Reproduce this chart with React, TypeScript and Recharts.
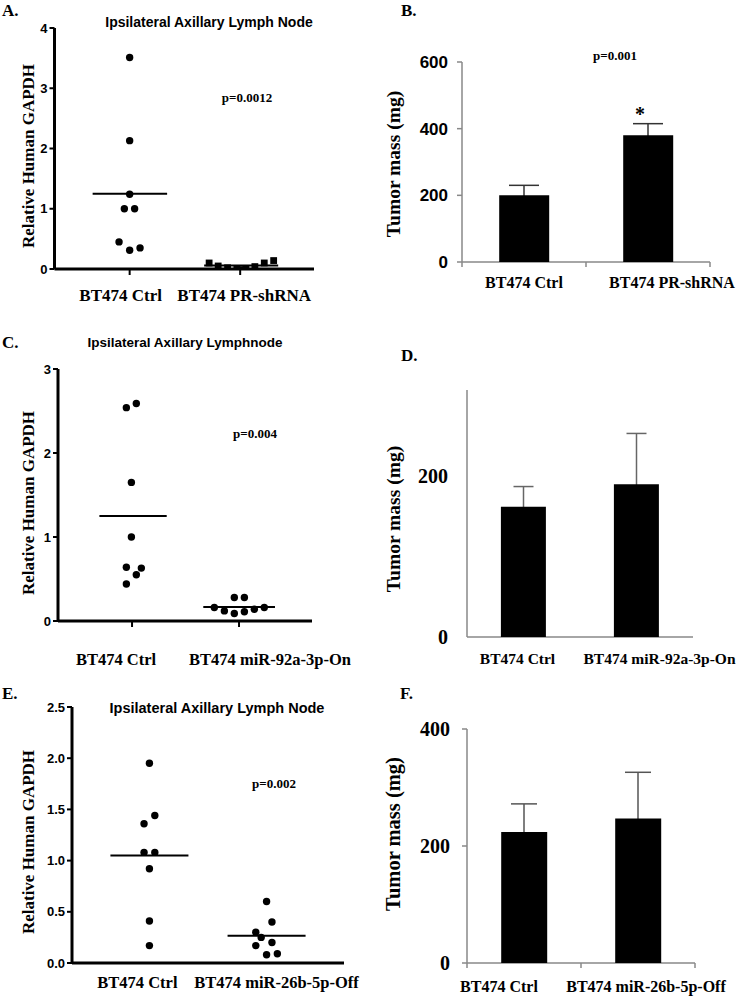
import React from 'react';
import { ScatterChart, Scatter, XAxis, YAxis, ReferenceLine, ComposedChart, Bar, Line, ErrorBar } from 'recharts';

const SERIF = '"Liberation Serif", "Times New Roman", serif';
const SANS = '"Liberation Sans", Arial, sans-serif';

// ---------- Panel A ----------
const aCategories = ['BT474 Ctrl', 'BT474 PR-shRNA'];
const aYTicks = [0, 1, 2, 3, 4];
const aCtrlY = [3.51, 2.13, 1.24, 1.0, 1.0, 0.45, 0.31, 0.35];
const aCtrlX = [1.0, 1.0, 1.0, 0.952, 1.045, 0.904, 1.0, 1.094];
const aShY = [0.1, 0.05, 0.02, 0.0, -0.01, 0.01, 0.04, 0.1, 0.14];
const aShX = [1.719, 1.801, 1.886, 1.97, 1.997, 2.052, 2.133, 2.218, 2.303];
const aMeans = [1.25, 0.06];
const aMeanSpans = [[0.665, 1.339], [1.674, 2.344]];
const aPValue = 'p=0.0012';

// ---------- Panel B ----------
const bCategories = ['BT474 Ctrl', 'BT474 PR-shRNA'];
const bMeans = [200, 380];
const bErrUp = [30, 35];
const bYTicks = [0, 200, 400, 600];
const bPValue = 'p=0.001';

// ---------- Panel C ----------
const cCategories = ['BT474 Ctrl', 'BT474 miR-92a-3p-On'];
const cYTicks = [0, 1, 2, 3];
const cCtrlY = [2.54, 2.59, 1.65, 1.0, 0.64, 0.63, 0.55, 0.44];
const cCtrlX = [0.947, 1.04, 0.994, 0.994, 0.947, 1.087, 1.04, 0.947];
const cOnY = [0.28, 0.28, 0.16, 0.12, 0.09, 0.11, 0.14, 0.16];
const cOnX = [1.956, 2.05, 1.769, 1.863, 1.956, 2.05, 2.143, 2.236];
const cMeans = [1.25, 0.167];
const cMeanSpans = [[0.695, 1.324], [1.666, 2.336]];
const cPValue = 'p=0.004';

// ---------- Panel D ----------
const dCategories = ['BT474 Ctrl', 'BT474 miR-92a-3p-On'];
const dMeans = [162, 190];
const dErrUp = [25, 63];
const dYTicks = [0, 200];

// ---------- Panel E ----------
const eCategories = ['BT474 Ctrl', 'BT474 miR-26b-5p-Off'];
const eYTicks = [0, 0.5, 1.0, 1.5, 2.0, 2.5];
const eCtrlY = [1.95, 1.44, 1.36, 1.08, 1.08, 0.92, 0.41, 0.17];
const eCtrlX = [1.0, 1.046, 0.954, 0.954, 1.046, 1.0, 1.0, 1.0];
const eOffY = [0.6, 0.4, 0.3, 0.25, 0.2, 0.17, 0.08, 0.09];
const eOffX = [2.0, 2.046, 1.908, 1.954, 2.046, 1.908, 2.0, 2.092];
const eMeans = [1.05, 0.265];
const eMeanSpans = [[0.667, 1.333], [1.667, 2.333]];
const ePValue = 'p=0.002';

// ---------- Panel F ----------
const fCategories = ['BT474 Ctrl', 'BT474 miR-26b-5p-Off'];
const fMeans = [224, 247];
const fErrUp = [48, 79];
const fYTicks = [0, 200, 400];

const toPoints = (xs: number[], ys: number[]) => ys.map((y, i) => ({ x: xs[i], y }));
const toBars = (cats: string[], means: number[], errs: number[]) =>
  cats.map((name, i) => ({ name, value: means[i], err: errs[i] }));

const Dot = (p: any) => <circle cx={p.cx} cy={p.cy} r={3.7} fill="#000" />;
const Square = (p: any) => <rect x={p.cx - 3.4} y={p.cy - 3.4} width={6.8} height={6.8} fill="#000" />;

const makeScatterTick = (labels: string[], dxs: number[], base: number, size: number) => (props: any) => {
  const { x, y, payload } = props;
  const i = Math.round(payload.value) - 1;
  if (i < 0 || i >= labels.length) return <g />;
  return (
    <text x={x + dxs[i]} y={y + base} textAnchor="middle" fontFamily={SERIF} fontWeight="bold" fontSize={size} fill="#000">
      {labels[i]}
    </text>
  );
};

const makeBarTick = (dxs: number[], base: number, size: number, edgeTicks: boolean, color: string) => (props: any) => {
  const { x, y, payload, index } = props;
  const off = payload.offset || 0;
  return (
    <g>
      {edgeTicks && index === 0 && <line x1={x - off} x2={x - off} y1={y} y2={y + 5} stroke={color} strokeWidth={1.5} />}
      {edgeTicks && <line x1={x + off} x2={x + off} y1={y} y2={y + 5} stroke={color} strokeWidth={1.5} />}
      <text x={x + dxs[index]} y={y + base} textAnchor="middle" fontFamily={SERIF} fontWeight="bold" fontSize={size} fill="#000">
        {payload.value}
      </text>
    </g>
  );
};

type ScatterPanelProps = {
  left: number; top: number; width: number; height: number;
  margin: { top: number; right: number };
  yWidth: number; xHeight: number;
  xDomain: [number, number]; yDomain: [number, number];
  yTicks: number[]; yFmt?: (v: number) => string;
  groups: { pts: { x: number; y: number }[]; square?: boolean }[];
  means: number[]; spans: number[][];
  tick: any; xTickLines: boolean;
};

const ScatterPanel = (p: ScatterPanelProps) => (
  <div style={{ position: 'absolute', left: p.left, top: p.top }}>
    <ScatterChart width={p.width} height={p.height} margin={{ top: p.margin.top, right: p.margin.right, bottom: 0, left: 0 }} style={{ overflow: 'visible' }}>
      <XAxis
        type="number" dataKey="x" domain={p.xDomain} ticks={[1, 2]} allowDataOverflow
        height={p.xHeight} interval={0}
        axisLine={{ stroke: '#000', strokeWidth: 3 }}
        tickLine={p.xTickLines ? { stroke: '#000', strokeWidth: 2 } : false}
        tickSize={p.xTickLines ? 6 : 0} tickMargin={0}
        tick={p.tick}
      />
      <YAxis
        type="number" dataKey="y" domain={p.yDomain} ticks={p.yTicks} allowDataOverflow
        width={p.yWidth} interval={0}
        axisLine={{ stroke: '#000', strokeWidth: 3 }}
        tickLine={{ stroke: '#000', strokeWidth: 2 }}
        tickSize={5} tickMargin={2}
        tickFormatter={p.yFmt}
        tick={{ fontFamily: SANS, fontWeight: 'bold', fontSize: 13, fill: '#000' }}
      />
      {p.groups.map((g, i) => (
        <Scatter key={i} data={g.pts} shape={g.square ? Square : Dot} isAnimationActive={false} />
      ))}
      {p.means.map((m, i) => (
        <ReferenceLine key={'m' + i} segment={[{ x: p.spans[i][0], y: m }, { x: p.spans[i][1], y: m }]} stroke="#000" strokeWidth={2} ifOverflow="visible" />
      ))}
    </ScatterChart>
  </div>
);

type BarPanelProps = {
  left: number; top: number; width: number; height: number;
  margin: { top: number; right: number };
  yWidth: number; xHeight: number;
  yDomain: [number, number]; yTicks: number[];
  data: any[]; tick: any;
  yTickFont: any; yTickLine: boolean; yTickMargin: number;
  errColor: string; errWidth: number; axisColor: string;
};

const BarPanel = (p: BarPanelProps) => (
  <div style={{ position: 'absolute', left: p.left, top: p.top }}>
    <ComposedChart width={p.width} height={p.height} data={p.data} barCategoryGap="30%" margin={{ top: p.margin.top, right: p.margin.right, bottom: 0, left: 0 }} style={{ overflow: 'visible' }}>
      <XAxis
        dataKey="name" height={p.xHeight} interval={0}
        axisLine={{ stroke: p.axisColor, strokeWidth: 1.5 }}
        tickLine={false} tickSize={0} tickMargin={0}
        tick={p.tick}
      />
      <YAxis
        domain={p.yDomain} ticks={p.yTicks} allowDataOverflow width={p.yWidth} interval={0}
        axisLine={{ stroke: p.axisColor, strokeWidth: 1.5 }}
        tickLine={p.yTickLine ? { stroke: p.axisColor, strokeWidth: 1.5 } : false}
        tickSize={p.yTickLine ? 5 : 0} tickMargin={p.yTickMargin}
        tick={p.yTickFont}
      />
      <Line dataKey="value" stroke="none" dot={false} activeDot={false} isAnimationActive={false} zIndex={100}>
        <ErrorBar dataKey="err" width={p.errWidth} stroke={p.errColor} strokeWidth={1.5} direction="y" zIndex={100} />
      </Line>
      <Bar dataKey="value" fill="#000" isAnimationActive={false} zIndex={500} />
    </ComposedChart>
  </div>
);

const Overlay = () => {
  const letter = (s: string, x: number, y: number) => (
    <text x={x} y={y} fontFamily={SERIF} fontWeight="bold" fontSize={17} fill="#000">{s}</text>
  );
  const title = (s: string, x: number, y: number, size: number) => (
    <text x={x} y={y} textAnchor="middle" fontFamily={SANS} fontWeight="bold" fontSize={size} fill="#000">{s}</text>
  );
  const pval = (s: string, x: number, y: number) => (
    <text x={x} y={y} textAnchor="middle" fontFamily={SERIF} fontWeight="bold" fontSize={13} fill="#000">{s}</text>
  );
  const ylab = (s: string, x: number, y: number, size: number) => (
    <text x={x} y={y} transform={`rotate(-90 ${x} ${y})`} textAnchor="middle" dominantBaseline="central" fontFamily={SERIF} fontWeight="bold" fontSize={size} fill="#000">{s}</text>
  );
  return (
    <svg width={745} height={996} style={{ position: 'absolute', left: 0, top: 0, pointerEvents: 'none' }}>
      {letter('A.', 2, 16)}
      {letter('B.', 401, 16)}
      {letter('C.', 2, 348)}
      {letter('D.', 401, 361)}
      {letter('E.', 2, 699)}
      {letter('F.', 400, 699)}
      {title('Ipsilateral Axillary Lymph Node', 209, 27, 14)}
      {title('Ipsilateral Axillary Lymphnode', 185, 347, 13.5)}
      {title('Ipsilateral Axillary Lymph Node', 217, 713, 14.5)}
      {pval(aPValue, 247, 101.5)}
      {pval(bPValue, 615, 59.5)}
      {pval(cPValue, 255, 437.5)}
      {pval(ePValue, 274, 787.5)}
      {ylab('Relative Human GAPDH', 28, 156, 17)}
      {ylab('Relative Human GAPDH', 28, 503, 17)}
      {ylab('Relative Human GAPDH', 28, 842, 17)}
      {ylab('Tumor mass (mg)', 393, 164, 19.5)}
      {ylab('Tumor mass (mg)', 393, 519, 19.5)}
      {ylab('Tumor mass (mg)', 393, 834, 20.5)}
      <text x={640} y={121} textAnchor="middle" fontFamily={SERIF} fontWeight="bold" fontSize={20} fill="#000">*</text>
    </svg>
  );
};

export default function App() {
  const sansTick = { fontFamily: SANS, fontWeight: 'bold', fontSize: 17, fill: '#000' };
  const serifTick = { fontFamily: SERIF, fontWeight: 'bold', fontSize: 20, fill: '#000' };
  return (
    <div style={{ position: 'absolute', left: 0, top: 0, width: 745, height: 996, background: '#fff', overflow: 'hidden' }}>
      {/* Panel A */}
      <ScatterPanel
        left={0} top={0} width={360} height={310}
        margin={{ top: 28, right: 46 }} yWidth={54.5} xHeight={41}
        xDomain={[0.32, 2.668]} yDomain={[0, 4]} yTicks={aYTicks}
        groups={[{ pts: toPoints(aCtrlX, aCtrlY) }, { pts: toPoints(aShX, aShY), square: true }]}
        means={aMeans} spans={aMeanSpans}
        tick={makeScatterTick(aCategories, [-9, 4], 32 - 6, 17)} xTickLines={true}
      />
      {/* Panel C */}
      <ScatterPanel
        left={0} top={310} width={360} height={360}
        margin={{ top: 59, right: 48 }} yWidth={58} xHeight={49}
        xDomain={[0.308, 2.682]} yDomain={[0, 3]} yTicks={cYTicks}
        groups={[{ pts: toPoints(cCtrlX, cCtrlY) }, { pts: toPoints(cOnX, cOnY) }]}
        means={cMeans} spans={cMeanSpans}
        tick={makeScatterTick(cCategories, [-16, 31], 44 - 6, 16.5)} xTickLines={true}
      />
      {/* Panel E */}
      <ScatterPanel
        left={0} top={650} width={380} height={346}
        margin={{ top: 57, right: 36 }} yWidth={72} xHeight={33}
        xDomain={[0.339, 2.661]} yDomain={[0, 2.5]} yTicks={eYTicks} yFmt={(v: number) => v.toFixed(1)}
        groups={[{ pts: toPoints(eCtrlX, eCtrlY) }, { pts: toPoints(eOffX, eOffY) }]}
        means={eMeans} spans={eMeanSpans}
        tick={makeScatterTick(eCategories, [-12, 10], 25, 16.5)} xTickLines={false}
      />
      {/* Panel B */}
      <BarPanel
        left={360} top={0} width={385} height={310}
        margin={{ top: 62, right: 35 }} yWidth={102} xHeight={48}
        yDomain={[0, 600]} yTicks={bYTicks}
        data={toBars(bCategories, bMeans, bErrUp)}
        tick={makeBarTick([0, 24], 26, 16, true, '#888')}
        yTickFont={sansTick} yTickLine={true} yTickMargin={9}
        errColor="#333" errWidth={15} axisColor="#888"
      />
      {/* Panel D */}
      <BarPanel
        left={360} top={310} width={385} height={360}
        margin={{ top: 80, right: 52 }} yWidth={107} xHeight={33}
        yDomain={[0, 307]} yTicks={dYTicks}
        data={toBars(dCategories, dMeans, dErrUp)}
        tick={makeBarTick([-6, 23], 27, 15.5, false, '#888')}
        yTickFont={serifTick} yTickLine={false} yTickMargin={19}
        errColor="#666" errWidth={10} axisColor="#888"
      />
      {/* Panel F */}
      <BarPanel
        left={360} top={650} width={385} height={346}
        margin={{ top: 79, right: 50 }} yWidth={107} xHeight={33}
        yDomain={[0, 400]} yTicks={fYTicks}
        data={toBars(fCategories, fMeans, fErrUp)}
        tick={makeBarTick([-25, 8], 29, 16, true, '#888')}
        yTickFont={serifTick} yTickLine={true} yTickMargin={12}
        errColor="#555" errWidth={13} axisColor="#888"
      />
      <Overlay />
    </div>
  );
}
